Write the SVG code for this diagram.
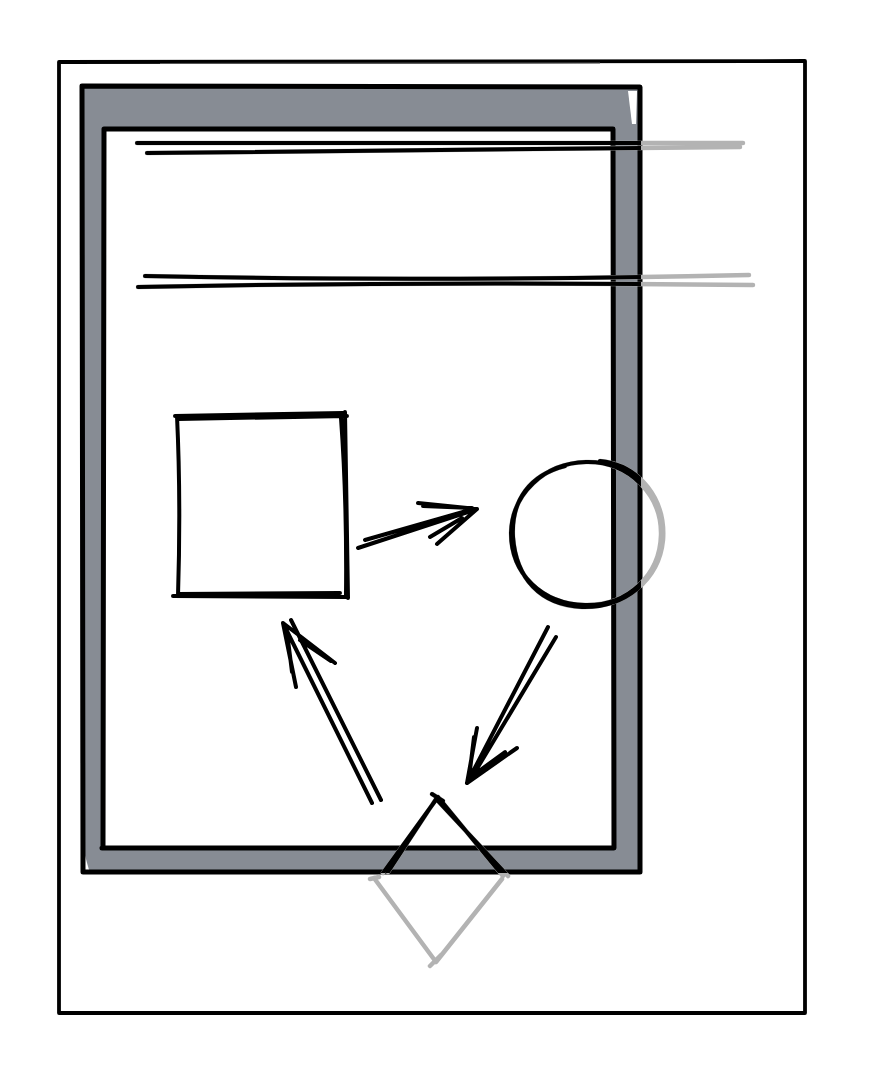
<svg xmlns="http://www.w3.org/2000/svg" xmlns:xlink="http://www.w3.org/1999/xlink" width="870" height="1084" viewBox="0 0 870 1084">
<style>
.ink{fill:none;stroke:#000;stroke-linecap:round;stroke-linejoin:round;stroke-width:4}
.ghost{fill:none;stroke:#b3b3b3;stroke-linecap:round;stroke-linejoin:round;stroke-width:4.5}
.thin{stroke-width:3.8}
</style>
<defs>
<clipPath id="frameClip"><rect x="81" y="85" width="560" height="788"/></clipPath>
<path id="line1" d="M137 143 L743 143 M147 153 Q400 150 740 147"/>
<path id="line2" d="M145 276 Q420 282 749 275 M138 287 Q420 281 753 285"/>
<path id="circ" d="M586 462 C630 461 662 496 661 535 C660 575 628 606 585 605 C542 604 511 574 511 533 C512 494 544 463 586 462 Z M600 461 C640 465 666 500 663 540 C659 580 625 608 582 607 C540 605 516 578 513 537 C511 500 530 475 565 466"/>
<path id="diam" d="M432 794 L443 801 M438 797 L383 873 M436 799 L388 872 M438 797 L503 876 M437 800 L508 876 M374 878 L436 962 L502 879 M370 879 L379 877 M430 966 L441 955"/>
</defs>

<g id="page">
<path class="ink thin" d="M59 62 L805 61 L805 1013 L59 1013 Z"/>
<path fill="none" stroke="#555" stroke-width="1.2" d="M160 63.5 L600 63"/>
</g>

<g id="frame">
<path d="M83 87 L640 87 L640 872 L83 872 Z M104 129 L614 129 L614 848 L104 848 Z" fill="#878c94" fill-rule="evenodd"/>
<polygon points="628,91 637,91 636,124 632,124" fill="#fff"/>
<polygon points="84,852 89,870 84,870" fill="#fff"/>
<path class="ink" style="stroke-width:5" d="M82 86 L640 87 L640 872 L83 872 Z"/>
<path class="ink" style="stroke-width:5" d="M104 129 L613 129 L614 848 L102 848 M104 129 L103 848"/>
</g>

<g id="rule-1">
<use xlink:href="#line1" class="ghost"/>
<use xlink:href="#line1" class="ink" clip-path="url(#frameClip)"/>
</g>

<g id="rule-2">
<use xlink:href="#line2" class="ghost"/>
<use xlink:href="#line2" class="ink" clip-path="url(#frameClip)"/>
</g>

<g id="square">
<path class="ink" d="M175 416 L343 413 M178 419 L347 416 M177 416 Q181 500 178 596 M345 412 L348 598 M341 418 Q347 500 346 596 M173 596 L347 597 M178 594 L340 593"/>
</g>

<g id="circle">
<use xlink:href="#circ" class="ghost"/>
<use xlink:href="#circ" class="ink" clip-path="url(#frameClip)"/>
</g>

<g id="diamond">
<use xlink:href="#diam" class="ghost"/>
<use xlink:href="#diam" class="ink" clip-path="url(#frameClip)"/>
</g>

<g id="connectors">
<path class="ink" d="M358 548 L477 509 M365 540 L470 510 M477 509 L418 503 M423 506 L472 508 M477 509 L437 544 M430 537 L462 518"/>
<path class="ink" d="M548 627 L467 783 M556 637 L472 777 M467 783 L477 728 M474 737 L470 770 M467 783 L517 748 M505 752 L475 774"/>
<path class="ink" d="M372 803 L283 623 M381 800 L291 620 M283 623 L296 687 M287 632 L292 672 M283 623 L335 663 M300 640 L331 661"/>
</g>
</svg>
